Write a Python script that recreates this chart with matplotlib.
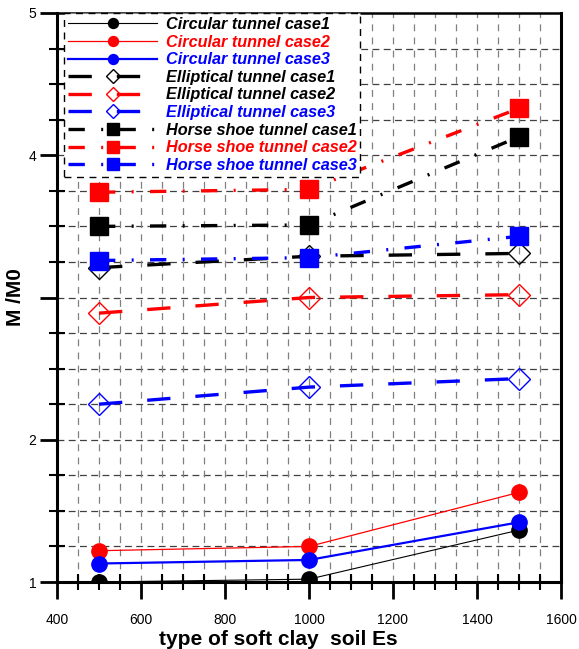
import matplotlib
matplotlib.use("Agg")
import matplotlib.pyplot as plt
from matplotlib.ticker import MultipleLocator, FixedLocator

plt.rcParams["font.family"] = ["Liberation Sans", "DejaVu Sans"]

# Data
es = [500, 1000, 1500]

circ_case1 = [1.00, 1.02, 1.365]
circ_case2 = [1.22, 1.25, 1.63]
circ_case3 = [1.13, 1.155, 1.42]

ellip_case1 = [3.21, 3.29, 3.31]
ellip_case2 = [2.89, 3.00, 3.02]
ellip_case3 = [2.25, 2.37, 2.43]

horse_case1 = [3.50, 3.51, 4.13]
horse_case2 = [3.74, 3.76, 4.33]
horse_case3 = [3.26, 3.28, 3.43]

labels = [
    "Circular tunnel case1", "Circular tunnel case2", "Circular tunnel case3",
    "Elliptical tunnel case1", "Elliptical tunnel case2", "Elliptical tunnel case3",
    "Horse shoe tunnel case1", "Horse shoe tunnel case2", "Horse shoe tunnel case3",
]
label_colors = ["black", "red", "blue", "black", "black", "blue", "black", "red", "blue"]

fig = plt.figure(figsize=(5.79, 6.49), dpi=100)
ax = fig.add_axes([57 / 579, 1 - 582 / 649, 504 / 579, 569 / 649])

dash_e = (0, (7, 7.5))
dash_h = (0, (4.9, 4.9, 0.6, 4.9))

# Circular
ax.plot(es, circ_case1, color="black", lw=0.8, marker="o", ms=11, label=labels[0], zorder=5)
ax.plot(es, circ_case2, color="red", lw=0.9, marker="o", ms=11, label=labels[1], zorder=5)
ax.plot(es, circ_case3, color="blue", lw=1.6, marker="o", ms=11, label=labels[2], zorder=5)

# Elliptical
ax.plot(es, ellip_case1, color="black", lw=2.4, ls=dash_e, marker="D", ms=11,
        mfc="none", mew=1.0, label=labels[3], zorder=4)
ax.plot(es, ellip_case2, color="red", lw=2.4, ls=dash_e, marker="D", ms=11,
        mfc="none", mew=1.0, label=labels[4], zorder=4)
ax.plot(es, ellip_case3, color="blue", lw=2.4, ls=dash_e, marker="D", ms=11,
        mfc="none", mew=1.0, label=labels[5], zorder=4)

# Horse shoe
ax.plot(es, horse_case1, color="black", lw=2.4, ls=dash_h, marker="s", ms=13,
        label=labels[6], zorder=4)
ax.plot(es, horse_case2, color="red", lw=2.4, ls=dash_h, marker="s", ms=13,
        label=labels[7], zorder=4)
ax.plot(es, horse_case3, color="blue", lw=2.4, ls=dash_h, marker="s", ms=13,
        label=labels[8], zorder=4)

ax.set_xlim(400, 1600)
ax.set_ylim(1, 5)

ax.xaxis.set_major_locator(MultipleLocator(200))
ax.xaxis.set_minor_locator(MultipleLocator(50))
ax.yaxis.set_major_locator(FixedLocator([1, 2, 3, 4, 5]))
ax.yaxis.set_minor_locator(MultipleLocator(0.25))
ax.set_yticklabels(["1", "2", "", "4", "5"])

# Grid
for y in [1 + 0.25 * k for k in range(1, 16)]:
    ax.axhline(y, color="0.25", lw=0.9, ls=(0, (5.5, 3.5)), zorder=1)
for x in range(450, 1600, 50):
    ax.axvline(x, color="0.5", lw=0.9, ls=(0, (5.5, 5)), zorder=1)

ax.tick_params(axis="both", which="major", direction="out", length=12, width=2,
               labelsize=10, pad=3)
ax.tick_params(axis="both", which="minor", direction="inout", length=12, width=1.5)
ax.tick_params(axis="x", which="major", pad=10)

for side in ["left", "bottom", "right"]:
    ax.spines[side].set_linewidth(2.2)
ax.spines["top"].set_linewidth(1.8)

ax.set_xlabel("type of soft clay  soil Es", fontsize=15, fontweight="bold")
ax.xaxis.set_label_coords(0.44, -0.085)
ax.set_ylabel("M /M0", fontsize=15, fontweight="bold")
ax.yaxis.set_label_coords(-0.063, 0.5)

leg = ax.legend(loc="upper left", bbox_to_anchor=(7 / 504, 1.0),
                prop={"weight": "bold", "style": "italic", "size": 11.7},
                handlelength=5.5, handletextpad=0.5, labelspacing=0.16,
                borderpad=0.25, markerscale=0.65, fancybox=False,
                borderaxespad=0.0, framealpha=1.0)
leg.get_frame().set_edgecolor("black")
leg.get_frame().set_linestyle((0, (5, 4)))
leg.get_frame().set_linewidth(1.0)
leg.set_zorder(10)
for txt, c in zip(leg.get_texts(), label_colors):
    txt.set_color(c)

fig.savefig("out.png", dpi=100)
